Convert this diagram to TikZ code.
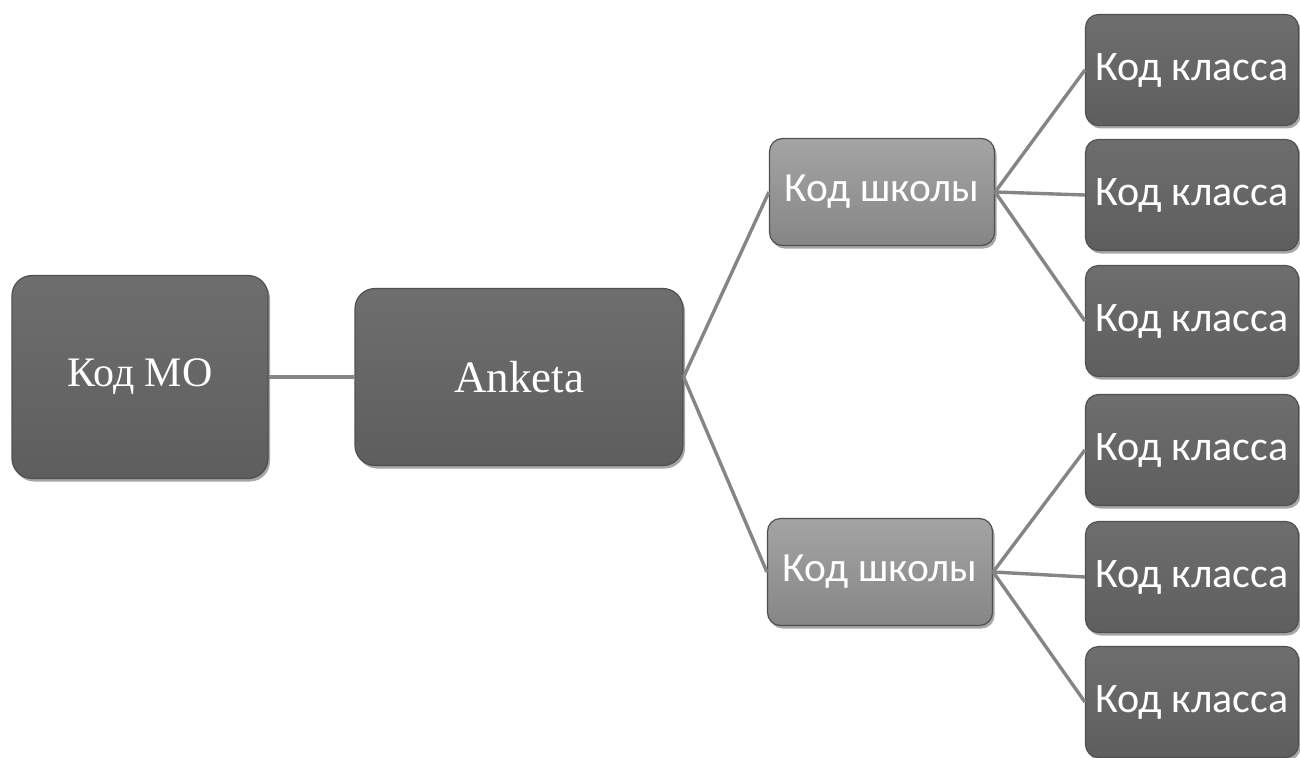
\documentclass[tikz,border=0pt]{standalone}
\usepackage{fontspec}
\setmainfont{Liberation Serif}
\newfontfamily\boxsans{Carlito}
\usetikzlibrary{shadows}
\definecolor{darkbox}{HTML}{5E5E5E}
\definecolor{darkboxtop}{HTML}{6E6E6E}
\definecolor{lightbox}{HTML}{868686}
\definecolor{lightboxtop}{HTML}{A4A4A4}
\definecolor{edgeline}{HTML}{505050}
\definecolor{linkline}{HTML}{858585}
\tikzset{
  x=1pt, y=-1pt,
  basebox/.style={rectangle, draw=edgeline, line width=1.2pt, text=white,
    inner sep=0pt, align=center,
    drop shadow={shadow xshift=2pt, shadow yshift=-3pt, opacity=0.35, fill=black}},
  bigbox/.style={basebox, rounded corners=20pt,
    top color=darkboxtop, bottom color=darkbox,
    font=\fontsize{42}{46}\selectfont},
  schoolbox/.style={basebox, rounded corners=13pt,
    top color=lightboxtop, bottom color=lightbox,
    minimum width=225pt, minimum height=107pt,
    font=\boxsans\fontsize{41.5}{45}\selectfont},
  classbox/.style={basebox, rounded corners=13pt,
    top color=darkboxtop, bottom color=darkbox,
    minimum width=213pt, minimum height=111pt,
    font=\boxsans\fontsize{42}{46}\selectfont},
  link/.style={draw=linkline, line width=3.4pt}
}
\begin{document}
\begin{tikzpicture}
  \useasboundingbox (0,0) rectangle (1300,757);

  % root and survey boxes
  \node[bigbox, minimum width=256pt, minimum height=203pt] (mo) at (140,377) {Код МО};
  \node[bigbox, minimum width=328pt, minimum height=177pt,
        font=\fontsize{45}{49}\selectfont] (anketa) at (519,377) {Anketa};

  % school level
  \node[schoolbox] (s1) at (882,192) {Код школы};
  \node[schoolbox] (s2) at (880,572) {Код школы};

  % class level
  \node[classbox] (c1) at (1192,70)  {Код класса};
  \node[classbox] (c2) at (1192,195) {Код класса};
  \node[classbox] (c3) at (1192,321) {Код класса};
  \node[classbox] (c4) at (1192,450) {Код класса};
  \node[classbox] (c5) at (1192,577) {Код класса};
  \node[classbox] (c6) at (1192,702) {Код класса};

  % connectors
  \draw[link] (mo.east) -- (anketa.west);
  \draw[link] (anketa.east) -- (s1.west);
  \draw[link] (anketa.east) -- (s2.west);
  \draw[link] (s1.east) -- (c1.west);
  \draw[link] (s1.east) -- (c2.west);
  \draw[link] (s1.east) -- (c3.west);
  \draw[link] (s2.east) -- (c4.west);
  \draw[link] (s2.east) -- (c5.west);
  \draw[link] (s2.east) -- (c6.west);
\end{tikzpicture}
\end{document}
